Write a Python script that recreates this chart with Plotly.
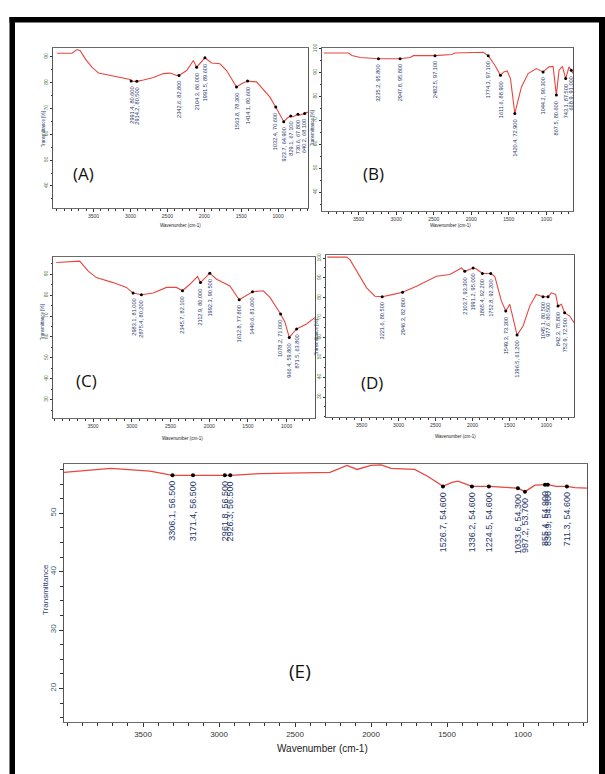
import plotly.graph_objects as go

W, H = 605, 774
RED = "#e8463f"
NAVY = "#26366a"

# ---------------- data ----------------
# Panel A
A_wn = [3995, 3793, 3725, 3680, 3613, 3523, 3433, 3275, 3140, 3005, 2824, 2689, 2554, 2464, 2374,
        2239, 2149, 1901, 1788, 1698, 1496, 1293, 1203, 1113, 878, 797, 707, 595]
A_T = [91.4, 91.4, 92.8, 92.4, 89.2, 86.0, 83.7, 82.8, 81.8, 81.2, 81.0, 82.0, 83.5, 83.7, 82.8,
       84.7, 88.6, 87.6, 87.3, 84.7, 79.6, 80.3, 77.3, 74.5, 66.2, 66.8, 67.4, 68.6]
A_pk_wn = [2991.4, 2914.2, 2342.6, 2104.3, 1991.5, 1563.8, 1414.1, 1032.4, 923.7, 829.1, 730.6, 640.2]
A_pk_T = [80.6, 80.5, 82.8, 86.0, 89.6, 78.3, 80.6, 70.6, 64.9, 67.1, 67.8, 68.1]

# Panel B
B_wn = [3965, 3633, 3589, 3478, 2814, 2770, 2261, 2217, 1841, 1686, 1567, 1522, 1478, 1376, 1332,
        1243, 1133, 965, 911, 832, 787, 699, 646]
B_T = [98.2, 98.2, 97.2, 96.3, 96.3, 97.1, 97.6, 98.2, 98.5, 93.1, 90.3, 90.7, 87.5, 78.5, 84.0,
       89.6, 91.7, 92.4, 92.6, 91.0, 92.6, 92.4, 89.6]
B_pk_wn = [3235.2, 2947.8, 2482.5, 1774.3, 1611.6, 1420.4, 1044.2, 867.5, 743.1, 668.9]
B_pk_T = [95.8, 95.8, 97.1, 97.1, 88.9, 72.9, 90.3, 80.6, 87.5, 91.0]

# Panel C
C_wn = [3974, 3716, 3672, 3565, 3457, 3241, 3069, 2724, 2552, 2422, 2250, 2151, 1905, 1733, 1517,
        1302, 1216, 1022, 742, 634]
C_T = [95.6, 95.9, 96.3, 91.6, 88.4, 86.0, 83.7, 81.0, 83.7, 83.7, 85.2, 88.9, 87.6, 84.4, 79.7,
       82.1, 78.9, 67.0, 66.2, 69.4]
C_pk_wn = [2983.1, 2875.4, 2345.7, 2112.9, 1992.3, 1612.8, 1440.6, 1078.2, 966.4, 871.5]
C_pk_T = [81.0, 80.2, 82.1, 86.0, 90.5, 77.8, 81.6, 71.0, 59.8, 63.8]

# Panel D
D_wn = [3964, 3703, 3658, 3568, 3432, 3320, 3072, 2757, 2486, 2306, 2149, 1946, 1698, 1608, 1495,
        1315, 1225, 1137, 932, 874, 797, 684, 626]
D_T = [100.5, 100.5, 99.2, 93.3, 85.0, 80.8, 81.7, 85.8, 90.8, 91.7, 95.0, 94.5, 90.8, 78.3, 76.7,
       65.8, 75.8, 81.7, 82.5, 81.7, 76.7, 70.8, 67.5]
D_pk_wn = [3221.6, 2946.3, 2103.7, 1991.2, 1865.4, 1752.8, 1549.3, 1396.5, 1045.1, 977.6, 842.3, 752.9]
D_pk_T = [80.5, 82.8, 93.3, 95.0, 92.2, 92.2, 73.3, 61.2, 80.5, 80.5, 75.8, 72.5]

# Panel E
E_wn = [4020, 3712, 3454, 2730, 2270, 2158, 2092, 2000, 1934, 1868, 1713, 1625, 1467, 1428,
        921, 783, 658, 601, 579]
E_T = [57.0, 57.7, 57.2, 56.8, 57.0, 58.2, 57.5, 58.2, 58.3, 57.7, 57.5, 56.3, 55.3, 55.5,
       54.8, 54.6, 54.4, 54.3, 54.3]
E_pk_wn = [3306.1, 3171.4, 2961.8, 2926.3, 1526.7, 1336.2, 1224.5, 1033.6, 987.2, 855.4, 836.9, 711.3]
E_pk_T = [56.5, 56.5, 56.5, 56.5, 54.6, 54.6, 54.6, 54.3, 53.7, 54.9, 54.9, 54.6]

X_TICKS = [3500, 3000, 2500, 2000, 1500, 1000]
A_YTICKS = [90, 80, 70, 60, 50, 40]
B_YTICKS = [100, 90, 80, 70, 60, 50, 40]
C_YTICKS = [90, 80, 70, 60, 50, 40, 30]
D_YTICKS = [100, 90, 80, 70, 60, 50, 40, 30]
E_YTICKS = [50, 40, 30, 20]

PANEL_LABELS = ["(A)", "(B)", "(C)", "(D)", "(E)"]
X_TITLE = "Wavenumber (cm-1)"
Y_TITLE_SMALL = "Transmittance [%]"
Y_TITLE_E = "Transmittance"

# ---------------- layout helpers ----------------
panels = [
    dict(wn=A_wn, T=A_T, pw=A_pk_wn, pT=A_pk_T, yt=A_YTICKS, box=(53, 308, 44, 205),
         xr=(4050, 595), yr=(31.5, 93.5), big=False, lab=(83, 170), xt=(180, 223), ytl=(43, 126)),
    dict(wn=B_wn, T=B_T, pw=B_pk_wn, pT=B_pk_T, yt=B_YTICKS, box=(322, 573, 44, 208),
         xr=(3987, 646), yr=(32.1, 100.4), big=False, lab=(373, 170), xt=(450, 223), ytl=(312, 125)),
    dict(wn=C_wn, T=C_T, pw=C_pk_wn, pT=C_pk_T, yt=C_YTICKS, box=(53, 315, 254, 416),
         xr=(4017, 634), yr=(21.3, 98.4), big=False, lab=(87, 378), xt=(182, 437), ytl=(42, 320)),
    dict(wn=D_wn, T=D_T, pw=D_pk_wn, pT=D_pk_T, yt=D_YTICKS, box=(326, 574, 252, 415),
         xr=(3982, 626), yr=(20.0, 101.7), big=False, lab=(372, 380), xt=(455, 435), ytl=(316, 335)),
    dict(wn=E_wn, T=E_T, pw=E_pk_wn, pT=E_pk_T, yt=E_YTICKS, box=(64, 587, 462, 722),
         xr=(4020, 579), yr=(14.2, 58.5), big=True, lab=(300, 670), xt=(322, 748), ytl=(46, 588)),
]

fig = go.Figure()
layout = {}
annotations = []

for i, p in enumerate(panels):
    n = "" if i == 0 else str(i + 1)
    xa, ya = "x" + n, "y" + n
    big = p["big"]
    pts = sorted(zip(p["wn"] + p["pw"], p["T"] + p["pT"]), reverse=True)
    fig.add_trace(go.Scatter(x=[a for a, _ in pts], y=[b for _, b in pts], mode="lines",
                             line=dict(color=RED, width=1.3 if big else 1.1),
                             xaxis=xa, yaxis=ya, showlegend=False, hoverinfo="skip"))
    fig.add_trace(go.Scatter(x=p["pw"], y=p["pT"], mode="markers",
                             marker=dict(color="black", size=4 if big else 3),
                             xaxis=xa, yaxis=ya, showlegend=False, hoverinfo="skip"))
    fs = 9 if big else 5.6
    for w, t in zip(p["pw"], p["pT"]):
        annotations.append(dict(x=w, y=t, xref=xa, yref=ya, text=f"{w:.1f}, {t:.3f}",
                                textangle=-90, showarrow=False, yanchor="top", xanchor="center",
                                yshift=-4, font=dict(size=fs, color=NAVY, family="Liberation Sans")))
    l, r, t, b = p["box"]
    tfs = 8 if big else 5
    layout["xaxis" + n] = dict(
        domain=[l / W, r / W], anchor=ya, range=list(p["xr"]),
        showline=True, linecolor="#6a6a6a", linewidth=1, mirror=True,
        ticks="outside", ticklen=4 if big else 3, tickcolor="#333",
        tickvals=X_TICKS, ticktext=[str(v) for v in X_TICKS],
        tickfont=dict(size=tfs, color="#333", family="Liberation Sans"),
        showgrid=False, zeroline=False,
        minor=dict(dtick=100, ticks="outside", ticklen=3 if big else 2, tickcolor="#333"),
    )
    layout["yaxis" + n] = dict(
        domain=[1 - b / H, 1 - t / H], anchor=xa, range=list(p["yr"]),
        showline=True, linecolor="#555", linewidth=1, mirror=True,
        ticks="outside", ticklen=4 if big else 2, tickcolor="#333",
        tickvals=p["yt"], ticktext=[str(v) for v in p["yt"]], tickangle=-90,
        tickfont=dict(size=8 if big else 5, color="#3d5e7a" if big else "#4a7a3a", family="Liberation Sans"),
        showgrid=False, zeroline=False,
        minor=dict(dtick=2.5 if big else 5, ticks="outside", ticklen=3 if big else 1.5, tickcolor="#333"),
    )
    # panel letter
    annotations.append(dict(x=p["lab"][0] / W, y=1 - p["lab"][1] / H, xref="paper", yref="paper",
                            text=PANEL_LABELS[i], showarrow=False, xanchor="center", yanchor="middle",
                            font=dict(size=19 if big else 17, color="#111", family="Open Sans")))
    # axis titles
    annotations.append(dict(x=p["xt"][0] / W, y=1 - p["xt"][1] / H, xref="paper", yref="paper",
                            text=X_TITLE, showarrow=False, xanchor="center", yanchor="middle",
                            font=dict(size=10 if big else 4.5, color="#222", family="Liberation Sans")))
    annotations.append(dict(x=p["ytl"][0] / W, y=1 - p["ytl"][1] / H, xref="paper", yref="paper",
                            text=Y_TITLE_E if big else Y_TITLE_SMALL, textangle=-90, showarrow=False,
                            xanchor="center", yanchor="middle",
                            font=dict(size=8 if big else 4.5, color="#2c3e6a", family="Liberation Sans")))

# thick black frame around the whole figure
shapes = [
    dict(type="rect", xref="paper", yref="paper", x0=9.5 / W, x1=15 / W, y0=0, y1=1 - 13 / H,
         fillcolor="black", line=dict(width=0), layer="above"),
    dict(type="rect", xref="paper", yref="paper", x0=599 / W, x1=1, y0=0, y1=1 - 13 / H,
         fillcolor="black", line=dict(width=0), layer="above"),
    dict(type="rect", xref="paper", yref="paper", x0=9.5 / W, x1=1, y0=1 - 18.5 / H, y1=1 - 13 / H,
         fillcolor="black", line=dict(width=0), layer="above"),
]

fig.update_layout(
    width=W, height=H, autosize=False,
    margin=dict(l=0, r=0, t=0, b=0, pad=0),
    paper_bgcolor="white", plot_bgcolor="white",
    showlegend=False,
    annotations=annotations, shapes=shapes,
    **layout,
)

fig.write_html("out.html", config={"displayModeBar": False})
